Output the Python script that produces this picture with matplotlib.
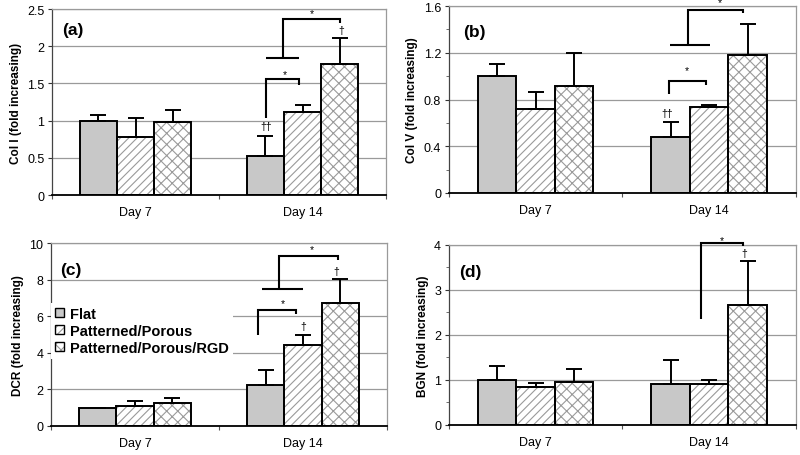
import matplotlib
matplotlib.use('Agg')
import matplotlib.pyplot as plt
import numpy as np
from matplotlib.patches import Patch
from matplotlib.ticker import MultipleLocator, FuncFormatter

plt.rcParams['font.family'] = ['Liberation Sans', 'DejaVu Sans']
plt.rcParams['hatch.linewidth'] = 0.8

days = ['Day 7', 'Day 14']
groups = ['Flat', 'Patterned/Porous', 'Patterned/Porous/RGD']

# mean fold increase, one row per group: [Day 7, Day 14]
col1_mean = [[1.00, 0.53], [0.78, 1.11], [0.98, 1.76]]
col1_sd = [[0.07, 0.26], [0.25, 0.10], [0.16, 0.35]]
col5_mean = [[1.00, 0.48], [0.716, 0.733], [0.913, 1.178]]
col5_sd = [[0.10, 0.125], [0.144, 0.023], [0.287, 0.268]]
dcr_mean = [[1.00, 2.24], [1.09, 4.45], [1.24, 6.73]]
dcr_sd = [[0.0, 0.81], [0.27, 0.51], [0.29, 1.29]]
bgn_mean = [[1.00, 0.90], [0.85, 0.90], [0.955, 2.66]]
bgn_sd = [[0.32, 0.55], [0.08, 0.10], [0.285, 0.99]]

# significance brackets (x in category units) and symbols
col1_brackets = [([0.78, 0.78, 0.98, 0.98], [1.04, 1.56, 1.56, 1.48]),
                 ([0.78, 0.98], [1.84, 1.84]),
                 ([0.881, 0.881, 1.225, 1.225], [1.84, 2.36, 2.36, 2.31])]
col1_marks = [(0.78, 0.93, '††'), (0.895, 1.63, '*'), (1.055, 2.45, '*'), (1.229, 2.22, '†')]
col5_brackets = [([0.766, 0.766, 0.981, 0.981], [0.845, 0.955, 0.955, 0.927]),
                 ([0.774, 1.004], [1.27, 1.27]),
                 ([0.878, 0.878, 1.196, 1.196], [1.27, 1.563, 1.563, 1.543])]
col5_marks = [(0.758, 0.685, '††'), (0.874, 1.05, '*'), (1.062, 1.63, '*')]
dcr_brackets = [([0.734, 0.734, 0.958, 0.958], [4.96, 6.36, 6.36, 6.1]),
                ([0.754, 0.998], [7.47, 7.47]),
                ([0.859, 0.859, 1.21, 1.21], [7.47, 9.27, 9.27, 9.09])]
dcr_marks = [(1.002, 5.47, '†'), (1.20, 8.45, '†'), (0.879, 6.73, '*'), (1.052, 9.69, '*')]
bgn_brackets = [([0.952, 0.952, 1.196, 1.196], [2.35, 4.05, 4.05, 3.98])]
bgn_marks = [(1.072, 4.1, '*'), (1.202, 3.81, '†')]

faces = ['#c8c8c8', 'white', 'white']
hatches = [None, '////', 'xxx']
width = 0.222

panels = [
    ([0.065, 0.570, 0.4175, 0.408], col1_mean, col1_sd, 'Col I (fold increasing)', 2.5, 0.5, None,
     '(a)', (0.03, 0.892), col1_brackets, col1_marks),
    ([0.561, 0.5746, 0.434, 0.410], col5_mean, col5_sd, 'Col V (fold increasing)', 1.6, 0.4, 0.2,
     '(b)', (0.04, 0.866), col5_brackets, col5_marks),
    ([0.06375, 0.0636, 0.42, 0.401], dcr_mean, dcr_sd, 'DCR (fold increasing)', 10, 2, None,
     '(c)', (0.027, 0.858), dcr_brackets, dcr_marks),
    ([0.561, 0.0658, 0.434, 0.395], bgn_mean, bgn_sd, 'BGN (fold increasing)', 4, 1, 0.5,
     '(d)', (0.03, 0.85), bgn_brackets, bgn_marks),
]

fig = plt.figure(figsize=(8, 4.56), dpi=100)
x = np.arange(len(days))

for rect, mean, sd, ylabel, ymax, major, minor, letter, lpos, brackets, marks in panels:
    ax = fig.add_axes(rect)
    for i in range(len(groups)):
        pos = x + (i - 1) * width
        # hatch layer, then black outline on top
        ax.bar(pos, mean[i], width, color=faces[i], edgecolor='#9a9a9a', hatch=hatches[i],
               linewidth=0, zorder=2)
        ax.bar(pos, mean[i], width, fill=False, edgecolor='black', linewidth=1.4, zorder=3)
        lower = np.zeros(len(days))
        ax.errorbar(pos, mean[i], yerr=[lower, sd[i]], fmt='none', ecolor='black',
                    elinewidth=1.4, capsize=5.5, capthick=1.4, zorder=4)

    for bx, by in brackets:
        ax.plot(bx, by, color='black', lw=1.5, clip_on=False, zorder=5,
                solid_joinstyle='miter', solid_capstyle='butt')
    for mx, my, s in marks:
        ax.text(mx, my, s, ha='center', va='center', fontsize=7.5, zorder=5)

    ax.set_xlim(-0.5, 1.5)
    ax.set_ylim(0, ymax)
    ax.yaxis.set_major_locator(MultipleLocator(major))
    ax.yaxis.set_major_formatter(FuncFormatter(lambda v, p: '%g' % round(v, 3)))
    if minor:
        ax.yaxis.set_minor_locator(MultipleLocator(minor))
        ax.tick_params(axis='y', which='minor', length=2.5, color='#555555')
    ax.tick_params(axis='y', which='major', length=3, pad=2.5, labelsize=9, color='#333333')

    ax.set_xticks([-0.5, 0.5, 1.5])
    ax.set_xticklabels([])
    ax.set_xticks(x, minor=True)
    ax.set_xticklabels(days, minor=True)
    ax.tick_params(axis='x', which='major', length=3, color='#555555')
    ax.tick_params(axis='x', which='minor', length=0, pad=8, labelsize=9)

    ax.yaxis.grid(True, color='#9a9a9a', lw=0.9)
    ax.set_axisbelow(True)
    for side in ['top', 'right']:
        ax.spines[side].set_color('#9a9a9a')
        ax.spines[side].set_linewidth(0.9)
    ax.spines['left'].set_color('#444444')
    ax.spines['left'].set_linewidth(0.9)
    ax.spines['bottom'].set_color('black')
    ax.spines['bottom'].set_linewidth(1.3)

    ax.set_ylabel(ylabel, fontsize=8.5, fontweight='bold')
    ax.text(lpos[0], lpos[1], letter, transform=ax.transAxes, ha='left', va='center',
            fontsize=12.5, fontweight='bold')

    if letter == '(c)':
        handles = []
        for i in range(len(groups)):
            h1 = Patch(facecolor=faces[i], edgecolor='#9a9a9a', hatch=hatches[i], linewidth=0)
            h2 = Patch(fill=False, edgecolor='black', linewidth=1.0)
            handles.append((h1, h2))
        leg = ax.legend(handles, groups, loc='center left', bbox_to_anchor=(0.0, 0.52),
                        prop={'weight': 'bold', 'size': 10.5}, handlelength=0.6, handleheight=0.6,
                        handletextpad=0.4, labelspacing=0.2, borderpad=0.3, borderaxespad=0,
                        frameon=True, fancybox=False, edgecolor='none', facecolor='white',
                        framealpha=1)
        leg.set_zorder(6)

fig.savefig('out.png', dpi=100)
